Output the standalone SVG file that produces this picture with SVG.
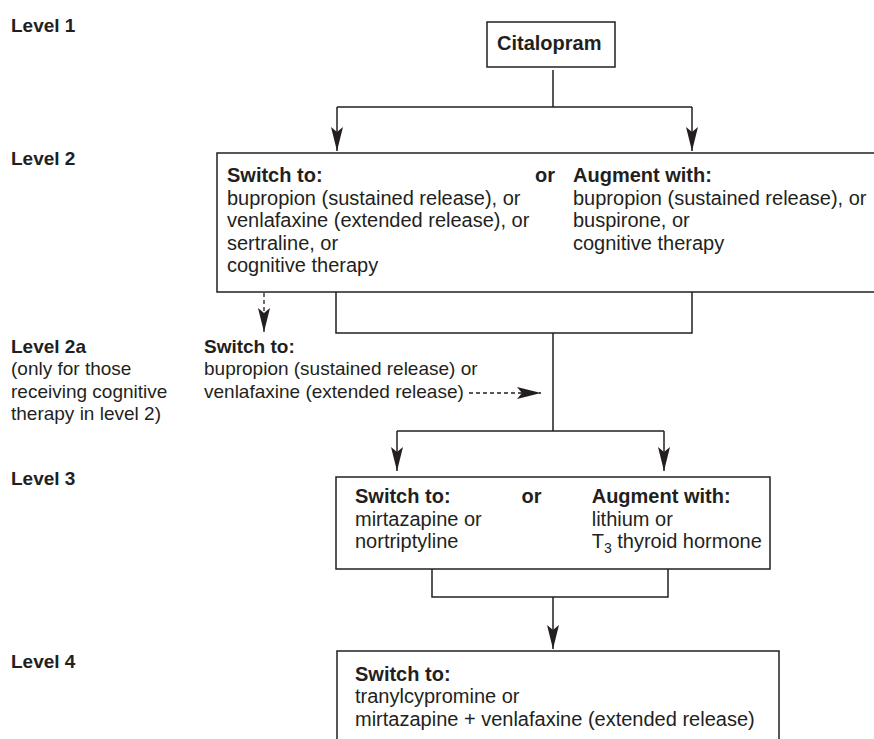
<svg xmlns="http://www.w3.org/2000/svg" width="874" height="739" viewBox="0 0 874 739">
<style>
text{font-family:"Liberation Sans",Arial,Helvetica,sans-serif;font-size:20px;fill:#231f20}
.b{font-weight:bold}
.s{font-size:19px}
.box{fill:#fff;stroke:#231f20;stroke-width:1.5}
.ln{fill:none;stroke:#231f20;stroke-width:1.5}
.dash{fill:none;stroke:#231f20;stroke-width:1.3;stroke-dasharray:4 3}
</style>
<defs>
<marker id="ah" viewBox="0 0 24 12" refX="24" refY="6" markerWidth="24" markerHeight="12" markerUnits="userSpaceOnUse" orient="auto">
<path d="M0,0 L24,6 L0,12 L5,6 Z" fill="#231f20"/>
</marker>
</defs>
<rect width="874" height="739" fill="#fff"/>
<g id="labels">
<text class="b s" x="11" y="31.5">Level 1</text>
<text class="b s" x="11" y="165">Level 2</text>
<text class="b s" x="11" y="352.5">Level 2a</text>
<text class="s" x="11" y="375">(only for those</text>
<text class="s" x="11" y="397.5">receiving cognitive</text>
<text class="s" x="11" y="420">therapy in level 2)</text>
<text class="b s" x="11" y="485">Level 3</text>
<text class="b s" x="11" y="668">Level 4</text>
</g>
<g id="connectors">
<path class="ln" d="M553,70 V107 M337,107 H692"/>
<path class="ln" d="M337,107 V151" marker-end="url(#ah)"/>
<path class="ln" d="M692,107 V151" marker-end="url(#ah)"/>
<path class="ln" d="M336,292 V333 H692 V292 M553,333 V431 M397,431 H664"/>
<path class="ln" d="M397,431 V471" marker-end="url(#ah)"/>
<path class="ln" d="M664,431 V471" marker-end="url(#ah)"/>
<path class="dash" d="M264,293 V332" marker-end="url(#ah)"/>
<path class="dash" d="M469,393 H541" marker-end="url(#ah)"/>
<path class="ln" d="M432,569 V597 H668 V569 M553,597 V649" marker-end="url(#ah)"/>
</g>
<g id="citalopram">
<rect class="box" x="487" y="22" width="128" height="45"/>
<text class="b" x="497" y="50">Citalopram</text>
</g>
<g id="level2">
<rect class="box" x="217" y="153" width="700" height="139"/>
<text class="b" x="227" y="182">Switch to:</text>
<text x="227" y="204.5">bupropion (sustained release), or</text>
<text x="227" y="227">venlafaxine (extended release), or</text>
<text x="227" y="249.5">sertraline, or</text>
<text x="227" y="272">cognitive therapy</text>
<text class="b" x="535" y="182">or</text>
<text class="b" x="573" y="182">Augment with:</text>
<text x="573" y="204.5">bupropion (sustained release), or</text>
<text x="573" y="227">buspirone, or</text>
<text x="573" y="249.5">cognitive therapy</text>
</g>
<g id="level2a">
<text class="b s" x="204" y="352.5">Switch to:</text>
<text class="s" x="204" y="375">bupropion (sustained release) or</text>
<text class="s" x="204" y="397.5">venlafaxine (extended release)</text>
</g>
<g id="level3">
<rect class="box" x="336" y="477" width="434" height="92"/>
<text class="b" x="355" y="503.3">Switch to:</text>
<text x="355" y="525.8">mirtazapine or</text>
<text x="355" y="548.3">nortriptyline</text>
<text class="b" x="521.5" y="503.3">or</text>
<text class="b" x="591.7" y="503.3">Augment with:</text>
<text x="591.7" y="525.8">lithium or</text>
<text x="591.7" y="548.3">T<tspan font-size="14" dy="5">3</tspan><tspan dy="-5"> thyroid hormone</tspan></text>
</g>
<g id="level4">
<rect class="box" x="337" y="651" width="442" height="120"/>
<text class="b" x="355" y="680.7">Switch to:</text>
<text x="355" y="703.3">tranylcypromine or</text>
<text x="355" y="726">mirtazapine + venlafaxine (extended release)</text>
</g>
</svg>
